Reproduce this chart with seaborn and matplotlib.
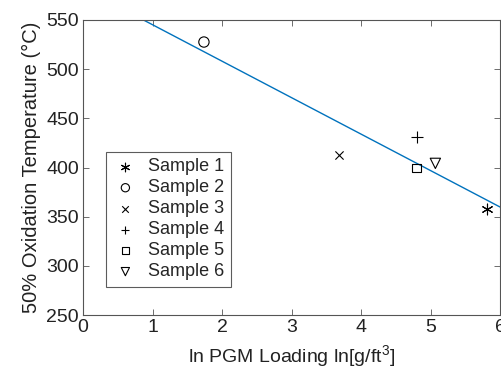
import numpy as np
import matplotlib
matplotlib.use("Agg")
import matplotlib.pyplot as plt
import seaborn as sns

samples = ["Sample 1", "Sample 2", "Sample 3", "Sample 4", "Sample 5", "Sample 6"]
x_vals = [5.81, 1.74, 3.69, 4.81, 4.80, 5.07]
y_vals = [357.4, 527.6, 412.4, 431.3, 399.8, 404.2]
markers = [(6, 2, 0), "o", "x", "+", "s", "v"]
sizes = [60, 55, 35, 65, 35, 55]

sns.set_theme(style="white")
plt.rcParams["font.family"] = ["Liberation Sans", "DejaVu Sans"]
plt.rcParams["mathtext.default"] = "regular"

fig = plt.figure(figsize=(5.01, 3.70), dpi=100)
ax = fig.add_axes([83/501, 55/370, 417/501, 295/370])

# linear fit line
coef = np.polyfit(x_vals, y_vals, 1)
xl = np.array([0.0, 6.0])
sns.lineplot(x=xl, y=np.polyval(coef, xl), ax=ax, color="#0072BD", linewidth=1.0, legend=False)

for s, xv, yv, m, sz in zip(samples, x_vals, y_vals, markers, sizes):
    if m in ("o", "s", "v"):
        sns.scatterplot(x=[xv], y=[yv], marker=m, s=sz, facecolor="none",
                        edgecolor="black", linewidth=0.8, ax=ax, label=s, zorder=3)
    else:
        sns.scatterplot(x=[xv], y=[yv], marker=m, s=sz, color="black",
                        linewidth=0.8, ax=ax, label=s, zorder=3)

ax.set_xlim(0, 6)
ax.set_ylim(250, 550)
ax.set_xticks([0, 1, 2, 3, 4, 5, 6])
ax.set_yticks([250, 300, 350, 400, 450, 500, 550])
ax.tick_params(direction="in", length=4, width=0.6, color="#555555",
               top=True, right=True, bottom=True, left=True,
               labelsize=14, labelcolor="#222222", pad=3)
for sp in ax.spines.values():
    sp.set_color("#555555")
    sp.set_linewidth(0.8)

ax.set_xlabel("ln PGM Loading ln[g/ft$^{3}$]", fontsize=14, color="#222222", labelpad=5)
ax.set_ylabel("50% Oxidation Temperature (°C)", fontsize=14.5, color="#222222", labelpad=4)

leg = ax.legend(loc="lower left", bbox_to_anchor=(0.054, 0.096), borderaxespad=0,
                fontsize=13, frameon=True, fancybox=False, handletextpad=0.5,
                labelspacing=0.22, borderpad=0.35, handlelength=1.5, markerscale=0.8)
leg.get_frame().set_edgecolor("#333333")
leg.get_frame().set_linewidth(0.8)

fig.savefig("out.png", dpi=100)
